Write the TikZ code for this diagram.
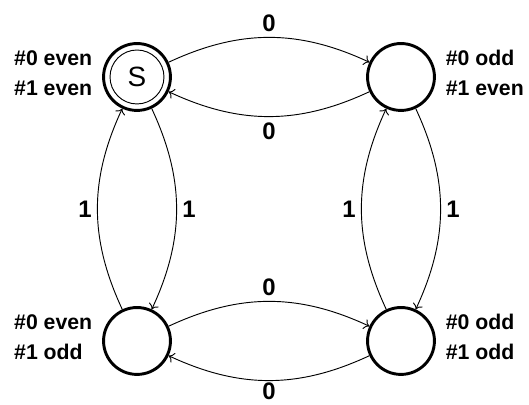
\documentclass[tikz,border=0pt]{standalone}
\usepackage{fontspec}
\setmainfont{Liberation Sans}
\usepackage{tikz}
\usetikzlibrary{arrows.meta,automata}
\usetikzlibrary{positioning}

\begin{document}
\begin{tikzpicture}[->,>={To[length=4pt,width=8pt]},auto,node distance=6.985cm,line width=0.7pt,bend angle=25]
 				 \tikzstyle{every state}=[fill=white, draw=black, text=black, line width=2.2pt, minimum size=1.77cm, inner sep=0pt, font=\fontsize{21}{21}\selectfont]
 				 \tikzstyle{start}=[path picture={\draw[line width=0.7pt] (path picture bounding box.center) circle (0.714cm);}]
 				 \tikzstyle{info}=[align=left, inner sep=0pt, yshift=3pt, font=\bfseries\fontsize{16}{22.5}\selectfont]
 				 \tikzstyle{lbl}=[inner sep=4pt, font=\bfseries\fontsize{18}{18}\selectfont]
						\useasboundingbox (-3.625,2.037) rectangle (10.372,-8.679);

						\node[state,start] (ee) {S};
						\node[state] (oe) [right of=ee]{};
						\node[state] (eo) [below of=ee]{};
						\node[state] (oo) [below of=oe]{};

						\node[info] (ee-txt) [left=0.25cm of ee] {\#0 even\\\#1 even};
						\node[info] (oe-txt) [right=0.25cm of oe] {\#0 odd\\\#1 even};
						\node[info] (eo-txt) [left=0.25cm of eo] {\#0 even\\\#1 odd};
						\node[info] (oo-txt) [right=0.25cm of oo] {\#0 odd\\\#1 odd};
						
						\path
							(ee) edge[bend left] node[lbl] {0} (oe)
							(oe) edge[bend left] node[lbl] {0} (ee)
							(eo) edge[bend left] node[lbl] {1} (ee)
							(ee) edge[bend left] node[lbl] {1} (eo)
							(oo) edge[bend left] node[lbl] {1} (oe)
							(oe) edge[bend left] node[lbl] {1} (oo)
							(eo) edge[bend left] node[lbl] {0} (oo)
							(oo) edge[bend left] node[lbl, inner sep=1.5pt] {0} (eo);
			
 				\end{tikzpicture}
\end{document}
